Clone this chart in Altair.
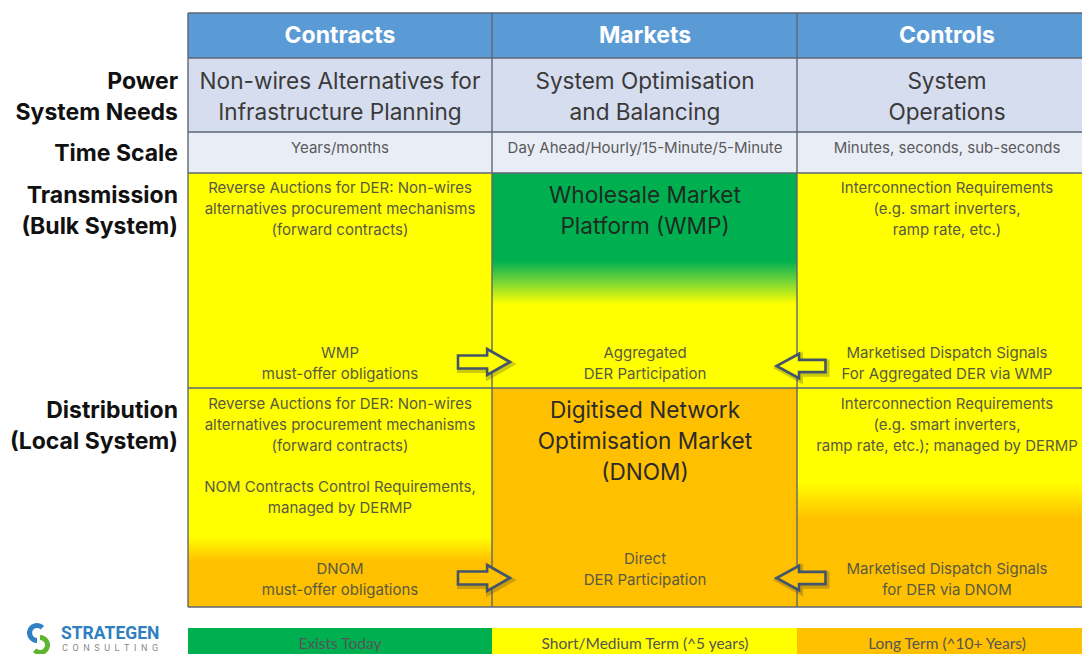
import altair as alt
import pandas as pd

# ---------------- content ----------------
col_headers = ["Contracts", "Markets", "Controls"]
side_needs = ["Power", "System Needs"]
side_time = ["Time Scale"]
side_trans = ["Transmission", "(Bulk System)"]
side_dist = ["Distribution", "(Local System)"]

needs_contracts = ["Non-wires Alternatives for", "Infrastructure Planning"]
needs_markets = ["System Optimisation", "and Balancing"]
needs_controls = ["System", "Operations"]

time_scales = ["Years/months", "Day Ahead/Hourly/15-Minute/5-Minute", "Minutes, seconds, sub-seconds"]

trans_contracts_top = ["Reverse Auctions for DER: Non-wires", "alternatives procurement mechanisms", "(forward contracts)"]
trans_contracts_bottom = ["WMP", "must-offer obligations"]
trans_markets_title = ["Wholesale Market", "Platform (WMP)"]
trans_markets_bottom = ["Aggregated", "DER Participation"]
trans_controls_top = ["Interconnection Requirements", "(e.g. smart inverters,", "ramp rate, etc.)"]
trans_controls_bottom = ["Marketised Dispatch Signals", "For Aggregated DER via WMP"]

dist_contracts_top = ["Reverse Auctions for DER: Non-wires", "alternatives procurement mechanisms", "(forward contracts)"]
dist_contracts_mid = ["NOM Contracts Control Requirements,", "managed by DERMP"]
dist_contracts_bottom = ["DNOM", "must-offer obligations"]
dist_markets_title = ["Digitised Network", "Optimisation Market", "(DNOM)"]
dist_markets_bottom = ["Direct", "DER Participation"]
dist_controls_top = ["Interconnection Requirements", "(e.g. smart inverters,", "ramp rate, etc.); managed by DERMP"]
dist_controls_bottom = ["Marketised Dispatch Signals", "for DER via DNOM"]

legend_labels = ["Exists Today", "Short/Medium Term (^5 years)", "Long Term (^10+ Years)"]
logo_name = "STRATEGEN"
logo_sub = "\u2002".join("CONSULTING")

# ---------------- styling / layout ----------------
BLUE = "#5B9BD5"
NEEDS_BG = "#D6DDEF"
TIME_BG = "#E9EDF6"
GREEN = "#00B050"
YELLOW = "#FFFF00"
ORANGE = "#FFC000"
LINE = "#5E6675"
FONT = "Inter"

col_edges = [188, 492, 797, 1090]
col_centers = [340, 645, 947]
header_rows = (13, 58)
needs_rows = (58, 132)
time_rows = (132, 173)
trans_rows = (173, 388)
dist_rows = (388, 607)
legend_rows = (628, 664)

X = alt.Scale(domain=[8, 1082], nice=False, zero=False)
Y = alt.Scale(domain=[8, 654], nice=False, zero=False, reverse=True)


def xq(f):
    return alt.X(f, type="quantitative", scale=X, axis=None)


def yq(f):
    return alt.Y(f, type="quantitative", scale=Y, axis=None)


# ---------------- solid cells ----------------
cells = []
for i in range(3):
    x0, x1 = col_edges[i], col_edges[i + 1]
    cells.append(dict(x=x0, x2=x1, y=header_rows[0], y2=header_rows[1], fill=BLUE))
    cells.append(dict(x=x0, x2=x1, y=needs_rows[0], y2=needs_rows[1], fill=NEEDS_BG))
    cells.append(dict(x=x0, x2=x1, y=time_rows[0], y2=time_rows[1], fill=TIME_BG))
cells.append(dict(x=col_edges[0], x2=col_edges[1], y=trans_rows[0], y2=trans_rows[1], fill=YELLOW))
cells.append(dict(x=col_edges[2], x2=col_edges[3], y=trans_rows[0], y2=trans_rows[1], fill=YELLOW))
cells.append(dict(x=col_edges[1], x2=col_edges[2], y=dist_rows[0], y2=dist_rows[1], fill=ORANGE))
for i, c in enumerate([GREEN, YELLOW, ORANGE]):
    cells.append(dict(x=col_edges[i], x2=col_edges[i + 1], y=legend_rows[0], y2=legend_rows[1], fill=c))
cells_df = pd.DataFrame(cells)

solid = alt.Chart(cells_df).mark_rect(clip=True).encode(
    x=xq("x"), x2="x2", y=yq("y"), y2="y2", color=alt.Color("fill:N", scale=None)
)


def grad_rect(x0, x1, y0, y1, stops):
    df = pd.DataFrame([dict(x=x0, x2=x1, y=y0, y2=y1)])
    g = alt.Gradient(
        gradient="linear",
        stops=[alt.GradientStop(offset=o, color=c) for o, c in stops],
        x1=0, x2=0, y1=0, y2=1,
    )
    return alt.Chart(df).mark_rect(fill=g, clip=True).encode(
        x=xq("x"), x2="x2", y=yq("y"), y2="y2"
    )


g1 = grad_rect(col_edges[1], col_edges[2], trans_rows[0], trans_rows[1],
               [(0, GREEN), (0.41, GREEN), (0.5, "#6FD33A"), (0.61, YELLOW), (1, YELLOW)])
g2 = grad_rect(col_edges[0], col_edges[1], dist_rows[0], dist_rows[1],
               [(0, YELLOW), (0.68, YELLOW), (0.79, ORANGE), (1, ORANGE)])
g3 = grad_rect(col_edges[2], col_edges[3], dist_rows[0], dist_rows[1],
               [(0, YELLOW), (0.43, YELLOW), (0.6, ORANGE), (1, ORANGE)])

# ---------------- grid lines ----------------
lines = []
for xe in col_edges[:3]:
    lines.append(dict(x=xe, x2=xe, y=header_rows[0], y2=dist_rows[1]))
for ye in [header_rows[0], header_rows[1], needs_rows[1], time_rows[1], trans_rows[1], dist_rows[1]]:
    lines.append(dict(x=col_edges[0], x2=col_edges[3], y=ye, y2=ye))
lines_df = pd.DataFrame(lines)
grid = alt.Chart(lines_df).mark_rule(color=LINE, strokeWidth=1.4, clip=True).encode(
    x=xq("x"), x2="x2", y=yq("y"), y2="y2"
)

# ---------------- texts ----------------
texts = []


def block(lines_, cx, y0, dy, fs, col):
    for k, t in enumerate(lines_):
        texts.append(dict(x=cx, y=y0 + k * dy, t=t, fs=fs, col=col))


BIG = 22.6
SMALL = 15.0
BIG_C = "#3A3A3A"
SM_C = "#5A5A40"
block(needs_contracts, col_centers[0], 82, 31, BIG, BIG_C)
block(needs_markets, col_centers[1], 82, 31, BIG, BIG_C)
block(needs_controls, col_centers[2], 82, 31, BIG, BIG_C)
for i in range(3):
    block([time_scales[i]], col_centers[i], 148, 0, 15.0, "#5A5A5A")

block(trans_contracts_top, col_centers[0], 188, 21, SMALL, SM_C)
block(trans_contracts_bottom, col_centers[0], 353, 21, SMALL, SM_C)
block(trans_markets_title, col_centers[1], 196, 31, BIG, "#1F2B22")
block(trans_markets_bottom, col_centers[1], 353, 21, SMALL, SM_C)
block(trans_controls_top, col_centers[2], 188, 21, SMALL, SM_C)
block(trans_controls_bottom, col_centers[2], 353, 21, SMALL, SM_C)

block(dist_contracts_top, col_centers[0], 404, 21, SMALL, SM_C)
block(dist_contracts_mid, col_centers[0], 487, 21, SMALL, SM_C)
block(dist_contracts_bottom, col_centers[0], 569, 21, SMALL, SM_C)
block(dist_markets_title, col_centers[1], 411, 31, BIG, "#2B2B2B")
block(dist_markets_bottom, col_centers[1], 559, 21, SMALL, SM_C)
block(dist_controls_top, col_centers[2], 404, 21, SMALL, SM_C)
block(dist_controls_bottom, col_centers[2], 569, 21, SMALL, SM_C)

texts_df = pd.DataFrame(texts)
body_text = alt.Chart(texts_df).mark_text(align="center", baseline="middle", font=FONT).encode(
    x=xq("x"), y=yq("y"), text="t:N",
    size=alt.Size("fs:Q", scale=None), color=alt.Color("col:N", scale=None),
)

leg_df = pd.DataFrame(dict(x=col_centers, y=[644] * 3, t=legend_labels))
leg_text = alt.Chart(leg_df).mark_text(
    align="center", baseline="middle", font="Lato", fontSize=15.5, color="#555555"
).encode(x=xq("x"), y=yq("y"), text="t:N")

hdr_df = pd.DataFrame(dict(x=col_centers, y=[36] * 3, t=col_headers))
hdr_text = alt.Chart(hdr_df).mark_text(
    align="center", baseline="middle", font=FONT, fontWeight="bold", fontSize=23, color="white"
).encode(x=xq("x"), y=yq("y"), text="t:N")

side_rows = []
for lst, y0 in [(side_needs, 82), (side_time, 154), (side_trans, 196), (side_dist, 411)]:
    for k, t in enumerate(lst):
        side_rows.append(dict(x=178, y=y0 + 31 * k, t=t))
side_df = pd.DataFrame(side_rows)
side_text = alt.Chart(side_df).mark_text(
    align="right", baseline="middle", font=FONT, fontWeight="bold", fontSize=23, color="#111111"
).encode(x=xq("x"), y=yq("y"), text="t:N")

# ---------------- arrows ----------------
RIGHT = "M-1,-0.25L0.12,-0.25L0.12,-0.5L1,0L0.12,0.5L0.12,0.25L-1,0.25Z"
LEFT = "M1,-0.25L-0.08,-0.25L-0.08,-0.5L-1,0L-0.08,0.5L-0.08,0.25L1,0.25Z"
right_df = pd.DataFrame(dict(x=[484, 484], y=[362, 578], f=[YELLOW, ORANGE]))
left_df = pd.DataFrame(dict(x=[801, 801], y=[366, 578], f=[YELLOW, ORANGE]))


def arrows(df, path, size):
    shadow_df = df.assign(x=df.x + 1.5, y=df.y + 2)
    shadow = alt.Chart(shadow_df).mark_point(
        shape=path, size=size, filled=False, stroke="#333333", strokeWidth=5, opacity=0.25
    ).encode(x=xq("x"), y=yq("y"))
    main = alt.Chart(df).mark_point(
        shape=path, size=size, filled=True, stroke="#44546A", strokeWidth=2.6, opacity=1
    ).encode(x=xq("x"), y=yq("y"), color=alt.Color("f:N", scale=None))
    return shadow + main


arr_r = arrows(right_df, RIGHT, 52 * 52)
arr_l = arrows(left_df, LEFT, 49 * 49)

# ---------------- logo ----------------
logo_arcs = pd.DataFrame(dict(x=[37, 40], y=[633, 645]))
arc_blue = alt.Chart(logo_arcs.iloc[[0]]).mark_arc(
    theta=3.14, theta2=7.07, radius=10, radius2=5, color="#2F80C4"
).encode(x=xq("x"), y=yq("y"))
arc_green = alt.Chart(logo_arcs.iloc[[1]]).mark_arc(
    theta=0.0, theta2=3.93, radius=10, radius2=5, color="#5DB531"
).encode(x=xq("x"), y=yq("y"))
logo_df = pd.DataFrame(dict(x=[61], y=[634], t=[logo_name]))
logo_name_t = alt.Chart(logo_df).mark_text(
    align="left", baseline="middle", font="Roboto", fontWeight="bold", fontSize=17.5, color="#2F7FC1"
).encode(x=xq("x"), y=yq("y"), text="t:N")
logo_sub_df = pd.DataFrame(dict(x=[62], y=[648], t=[logo_sub]))
logo_sub_t = alt.Chart(logo_sub_df).mark_text(
    align="left", baseline="middle", font="Roboto", fontSize=9, color="#8A8A8A"
).encode(x=xq("x"), y=yq("y"), text="t:N")

chart = alt.layer(
    solid, g1, g2, g3, grid, body_text, leg_text, hdr_text, side_text, arr_r, arr_l,
    arc_blue, arc_green, logo_name_t, logo_sub_t,
).properties(
    width=1074, height=646,
    autosize=alt.AutoSizeParams(type="none"),
    padding=0, background="white",
).configure_view(stroke=None)

chart.save("out.html", embed_options={"renderer": "svg", "actions": False})
